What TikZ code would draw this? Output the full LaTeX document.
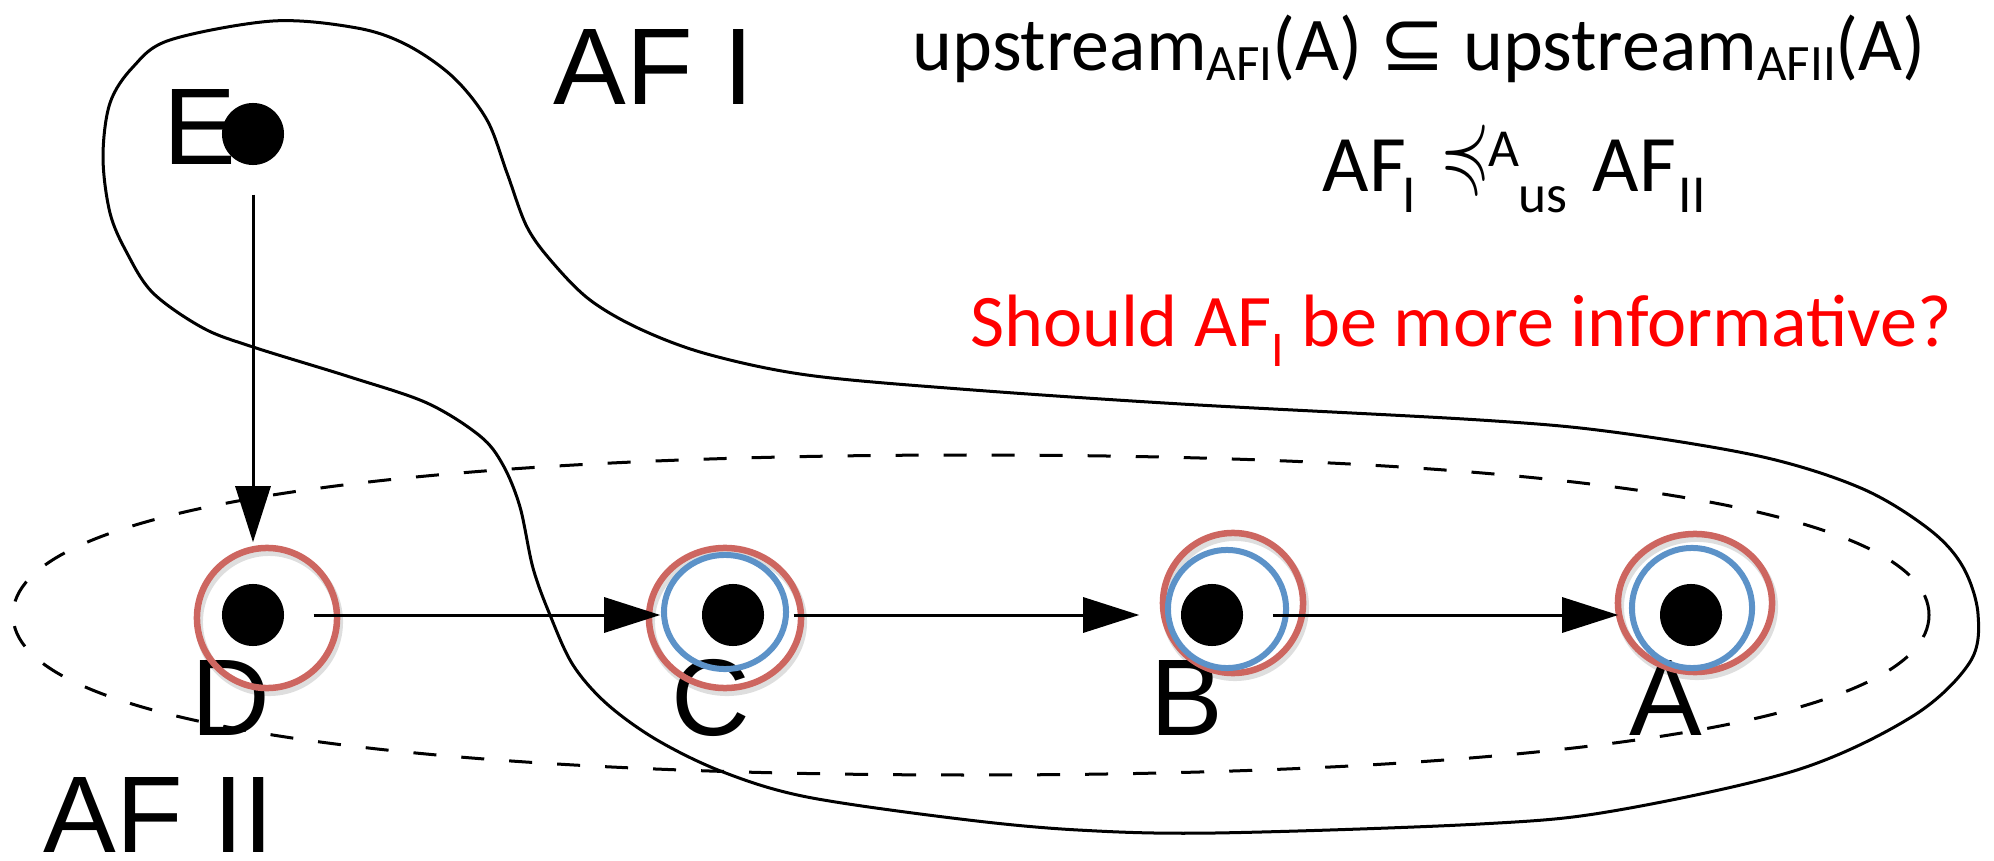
\documentclass[tikz,border=0pt]{standalone}
\usepackage{amssymb}
\usepackage{fontspec}
\usepackage{graphicx}
\setmainfont{Liberation Sans}
\newfontfamily\calfont{Carlito}
\newfontfamily\djvfont{DejaVu Sans}
\usetikzlibrary{arrows.meta}
\definecolor{ringred}{RGB}{205,102,96}
\definecolor{ringblue}{RGB}{92,146,200}
\definecolor{qred}{RGB}{255,0,0}
\newcommand\subsz{\fontsize{14.5}{14.5}\selectfont}
\begin{document}
\begin{tikzpicture}[x=0.01cm,y=-0.01cm,
  dot/.style={circle,fill=black,inner sep=0pt,minimum size=0.62cm},
  lab/.style={inner sep=0pt,anchor=base,font=\fontsize{31}{31}\selectfont},
  conn/.style={line width=0.03cm,-{Triangle[length=0.56cm,width=0.35cm]},shorten <=0.29cm,shorten >=0.41cm},
  redring/.style={draw=ringred,line width=0.065cm},
  bluering/.style={draw=ringblue,line width=0.06cm},
  shadowring/.style={draw=black,opacity=0.13,line width=0.08cm},
  blob/.style={line width=0.03cm},
  afiiline/.style={line width=0.03cm,dash pattern=on 0.23cm off 0.25cm},
  mainl/.style={inner sep=0pt,anchor=base west,font=\calfont\fontsize{22.8}{22.8}\selectfont},
  subl/.style={inner sep=0pt,anchor=base west,font=\calfont\fontsize{15.2}{15.2}\selectfont}]
\useasboundingbox (0,0) rectangle (1994,861);

% AF I region
\draw[blob] plot[smooth cycle,tension=0.55] coordinates {
 (273,21) (357,28) (407,45) (453,77) (487,120) (507,173) (527,227) (553,263)
 (590,300) (640,329) (707,354) (807,375) (960,389) (1181,404) (1480,420)
 (1613,432) (1763,457) (1863,489) (1930,530) (1963,567) (1978,614) (1970,662)
 (1913,716) (1797,770) (1613,811) (1480,824) (1215,833) (1078,830) (960,819)
 (807,797) (723,772) (657,740) (607,704) (573,665) (550,615) (533,568)
 (520,507) (503,465) (480,436) (427,403) (350,377) (253,347) (203,328)
 (153,293) (127,253) (110,213) (103,157) (110,103) (133,67) (170,40)};

% AF II region
\draw[afiiline] (1929,615) .. controls (1929,717) and (1584,775) .. (971,775)
  .. controls (358,775) and (13,717) .. (13,615)
  .. controls (13,513) and (358,455) .. (971,455)
  .. controls (1584,455) and (1929,513) .. cycle;

% labels
\node[lab] (labE) at (200,165) {E};
\node[lab] (labD) at (231,735) {D};
\node[lab] (labC) at (711,735) {C};
\node[lab] (labB) at (1187,735) {B};
\node[lab] (labA) at (1666,735) {A};
\node[lab,anchor=base west] (afI) at (553,105) {AF I};
\node[lab,anchor=base west] (afII) at (43,852) {AF II};

% dots
\node[dot] (E) at (253,134) {};
\node[dot] (D) at (253,615) {};
\node[dot] (C) at (733,615) {};
\node[dot] (B) at (1212,615) {};
\node[dot] (A) at (1691,615) {};

% rings
\draw[shadowring] (269,622) circle [radius=0.7cm];
\draw[redring] (267,618) circle [radius=0.7cm];
\draw[shadowring] (727,622) ellipse [x radius=0.76cm,y radius=0.7cm];
\draw[redring] (725,618) ellipse [x radius=0.76cm,y radius=0.7cm];
\draw[bluering] (725,612) ellipse [x radius=0.61cm,y radius=0.57cm];
\draw[shadowring] (1235,607) circle [radius=0.7cm];
\draw[redring] (1233,603) circle [radius=0.7cm];
\draw[bluering] (1227,609) circle [radius=0.59cm];
\draw[shadowring] (1697,607) ellipse [x radius=0.77cm,y radius=0.69cm];
\draw[redring] (1695,603) ellipse [x radius=0.77cm,y radius=0.69cm];
\draw[bluering] (1692,608) circle [radius=0.6cm];

% connectors
\draw[conn] (E) -- (D);
\draw[conn] (D) -- (C);
\draw[conn] (C) -- (B);
\draw[conn] (B) -- (A);

% formula line 1
\node[inner sep=0pt,anchor=base west,font=\calfont\fontsize{21.6}{21.6}\selectfont] (line1) at (912,71)
 {upstream\raisebox{-0.09cm}{\subsz AFI}(A) {\djvfont\fontsize{22.5}{22.5}\selectfont ⊆} upstream\raisebox{-0.09cm}{\subsz AFII}(A)};

% formula line 2
\node[mainl] (l2af) at (1322,192) {AF};
\node[subl] (l2i) at (1402,213) {I};
\node[inner sep=0pt,anchor=base west] (l2rel) at (1440,182) {\resizebox{0.5cm}{0.62cm}{$\preccurlyeq$}};
\node[subl] (l2sup) at (1488,167) {A};
\node[subl] (l2us) at (1518,213) {us};
\node[mainl] (l2af2) at (1592,192) {AF};
\node[subl] (l2ii) at (1678,213) {II};

% question
\node[inner sep=0pt,anchor=base west,text=qred,font=\calfont\fontsize{21.1}{21.1}\selectfont] (quest) at (970,347)
 {Should AF\raisebox{-0.19cm}{\fontsize{14.2}{14.2}\selectfont I} be more informative?};
\end{tikzpicture}
\end{document}
